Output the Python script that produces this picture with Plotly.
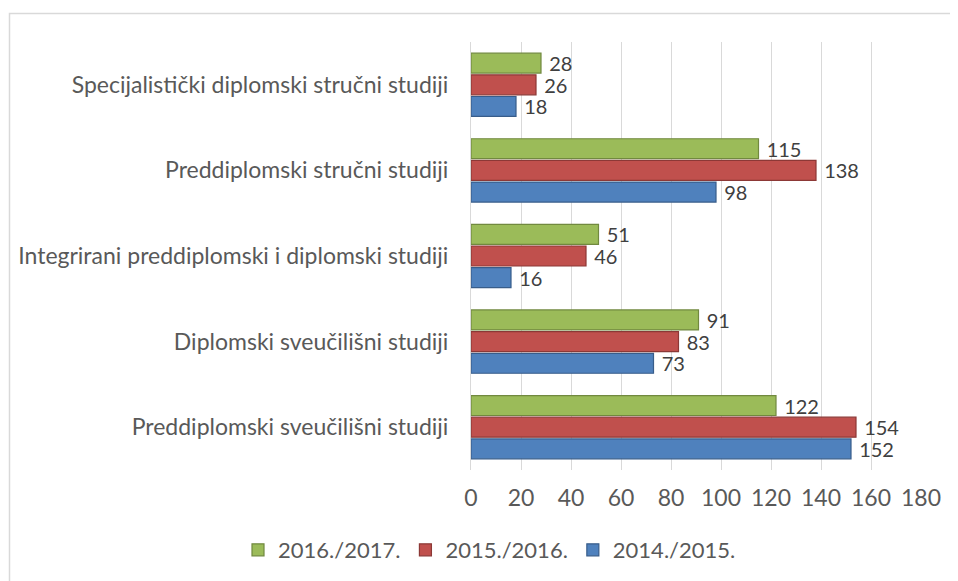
import plotly.graph_objects as go

categories = [
    "Preddiplomski sveučilišni studiji",
    "Diplomski sveučilišni studiji",
    "Integrirani preddiplomski i diplomski studiji",
    "Preddiplomski stručni studiji",
    "Specijalistički diplomski stručni studiji",
]
series_names = ["2014./2015.", "2015./2016.", "2016./2017."]
values_2014 = [152, 73, 16, 98, 18]
values_2015 = [154, 83, 46, 138, 26]
values_2016 = [122, 91, 51, 115, 28]
x_ticks = [0, 20, 40, 60, 80, 100, 120, 140, 160, 180]

colors = ["#4F81BD", "#C0504D", "#9BBB59"]
edges = ["#385D8A", "#8C3836", "#71893F"]
FONT = "Lato"
TXT = "#404040"
FS = 23

# page body has an 8px margin, so figure coords = page coords - 8
OFF = 8
W, H = 958 - OFF, 581 - OFF
L, R_px, T, B_px = 471 - OFF, 921 - OFF, 42 - OFF, 470 - OFF
pw, ph = R_px - L, B_px - T

def px_x(p):
    return (p - OFF - L) / pw

def px_y(p):
    return (B_px - (p - OFF)) / ph

fig = go.Figure()
for name, vals, c, e in zip(series_names, [values_2014, values_2015, values_2016], colors, edges):
    fig.add_trace(go.Bar(
        y=categories, x=vals, name=name, orientation="h",
        marker=dict(color=c, line=dict(color=e, width=1.2)),
        texttemplate=" %{x}", textposition="outside", constraintext="none",
        textfont=dict(family=FONT, size=20, color=TXT),
        cliponaxis=False,
    ))

fig.update_layout(
    width=W, height=H,
    margin=dict(l=L, r=W - R_px, t=T, b=H - B_px, autoexpand=False),
    paper_bgcolor="white", plot_bgcolor="white",
    barmode="group", bargap=0.24, bargroupgap=0.08,
    font=dict(family=FONT, size=FS, color=TXT),
    xaxis=dict(
        range=[0, 180], tickvals=x_ticks, showgrid=True, gridcolor="#D9D9D9", gridwidth=1,
        zeroline=False, showline=False, ticks="", tickfont=dict(family=FONT, size=FS, color="#595959"),
        ticklabelstandoff=12, automargin=False,
    ),
    yaxis=dict(
        showline=True, linecolor="#D9D9D9", linewidth=1, ticks="",
        tickfont=dict(family=FONT, size=FS, color="#595959"),
        ticklabelstandoff=17, automargin=False,
    ),
    legend=dict(
        orientation="h", traceorder="reversed",
        x=px_x(238), xanchor="left",
        y=px_y(550), yanchor="middle",
        font=dict(family=FONT, size=22, color="#595959"),
        itemwidth=30, bgcolor="rgba(0,0,0,0)",
    ),
    showlegend=True,
    shapes=[dict(
        type="rect", xref="paper", yref="paper",
        x0=px_x(9.5), x1=px_x(975), y0=px_y(600), y1=px_y(13.5),
        line=dict(color="#D9D9D9", width=1.5), fillcolor="rgba(0,0,0,0)", layer="below",
    )],
)

fig.write_html("out.html")
